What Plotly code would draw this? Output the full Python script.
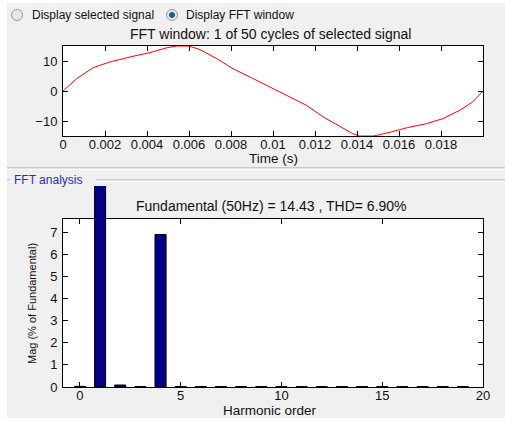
import plotly.graph_objects as go

W, H = 505, 421

# ---------------- data ----------------
time_s = [0.0, 0.00065, 0.00144, 0.00224, 0.00335, 0.00414, 0.00494, 0.0054, 0.0060,
          0.00652, 0.00732, 0.0081, 0.00906, 0.0100, 0.0108, 0.0116, 0.0124, 0.0132,
          0.0138, 0.0141, 0.0148, 0.0156, 0.0164, 0.0173, 0.0181, 0.0189, 0.0195, 0.0200]
signal = [0.0, 4.1, 7.8, 9.7, 11.6, 12.8, 14.4, 15.0, 15.0,
          13.8, 10.8, 7.4, 4.1, 0.8, -2.0, -4.8, -8.7, -12.0,
          -14.2, -15.0, -15.0, -13.7, -12.2, -10.9, -9.2, -6.4, -3.7, 0.0]

harmonic_order = list(range(20))
magnitude_pct = [0.03, 100.0, 0.09, 0.02, 6.90, 0.02, 0.02, 0.02, 0.02, 0.02,
                 0.02, 0.02, 0.02, 0.02, 0.02, 0.02, 0.02, 0.02, 0.02, 0.02]

time_ticks = [0, 0.002, 0.004, 0.006, 0.008, 0.01, 0.012, 0.014, 0.016, 0.018]
time_tick_labels = ["0", "0.002", "0.004", "0.006", "0.008", "0.01", "0.012", "0.014", "0.016", "0.018"]
signal_ticks = [-10, 0, 10]
harm_ticks = [0, 5, 10, 15, 20]
mag_ticks = [0, 1, 2, 3, 4, 5, 6, 7]

title_top = "FFT window: 1 of 50 cycles of selected signal"
title_bottom = "Fundamental (50Hz) = 14.43 , THD= 6.90%"

# ---------------- helpers ----------------
def px(x):
    return x / W

def py(y):
    return 1 - y / H

FONT = "Liberation Sans, Arial, sans-serif"
TXT = "#111111"
GRAY = "#f0f0f0"

L, R = 63, 483
T1, B1 = 46, 136
T2, B2 = 219, 387
T3 = 186
mag_max = 7.6
mag_ext = mag_max * (B2 - T3) / (B2 - T2)

fig = go.Figure()

fig.add_trace(go.Scatter(x=time_s, y=signal, mode="lines",
                         line=dict(color="#ff0000", width=1),
                         xaxis="x", yaxis="y", showlegend=False, hoverinfo="skip"))

fig.add_trace(go.Scatter(x=[None], y=[None], mode="lines", xaxis="x2", yaxis="y2",
                         showlegend=False, hoverinfo="skip"))

fig.add_trace(go.Bar(x=harmonic_order, y=magnitude_pct, width=0.55,
                     marker=dict(color="#000088", line=dict(color="#000000", width=1)),
                     xaxis="x3", yaxis="y3", showlegend=False, hoverinfo="skip"))

axis_common = dict(showline=True, linecolor="#000000", linewidth=1, mirror="allticks",
                   ticks="inside", ticklen=5, tickcolor="#000000", showgrid=False,
                   zeroline=False, automargin=False,
                   tickfont=dict(family=FONT, size=13, color=TXT))

fig.update_layout(
    width=W, height=H,
    margin=dict(l=0, r=0, t=0, b=0, pad=0, autoexpand=False),
    paper_bgcolor="#ffffff",
    plot_bgcolor="rgba(0,0,0,0)",
    showlegend=False,
    xaxis=dict(domain=[px(L), px(R)], range=[0, 0.02], anchor="y", ticklabelstandoff=-4,
               tickvals=time_ticks, ticktext=time_tick_labels, **axis_common),
    yaxis=dict(domain=[py(B1), py(T1)], range=[-15, 15], anchor="x", ticklabelstandoff=2,
               tickvals=signal_ticks, **axis_common),
    xaxis2=dict(domain=[px(L), px(R)], range=[-0.84, 20], anchor="y2", ticklabelstandoff=-4,
                tickvals=harm_ticks, **axis_common),
    yaxis2=dict(domain=[py(B2), py(T2)], range=[0, mag_max], anchor="x2", ticklabelstandoff=2,
                tickvals=mag_ticks, **axis_common),
    xaxis3=dict(domain=[px(L), px(R)], range=[-0.84, 20], anchor="y3", visible=False),
    yaxis3=dict(domain=[py(B2), py(T3)], range=[0, mag_ext], anchor="x3", visible=False),
)

shapes = []
shapes.append(dict(type="rect", xref="paper", yref="paper", x0=px(7), x1=px(505), y0=py(418), y1=py(3),
                   fillcolor=GRAY, line=dict(width=0), layer="below"))
shapes.append(dict(type="rect", xref="paper", yref="paper", x0=px(L), x1=px(R), y0=py(B1), y1=py(T1),
                   fillcolor="#ffffff", line=dict(width=0), layer="below"))
shapes.append(dict(type="rect", xref="paper", yref="paper", x0=px(L), x1=px(R), y0=py(B2), y1=py(T2),
                   fillcolor="#ffffff", line=dict(width=0), layer="below"))
shapes.append(dict(type="line", xref="paper", yref="paper", x0=px(7), x1=px(505), y0=py(168), y1=py(168),
                   line=dict(color="#a0a0a0", width=1), layer="below"))
shapes.append(dict(type="line", xref="paper", yref="paper", x0=px(7), x1=px(505), y0=py(169), y1=py(169),
                   line=dict(color="#ffffff", width=1), layer="below"))
for (a, b) in [(7, 10), (96, 505)]:
    shapes.append(dict(type="line", xref="paper", yref="paper", x0=px(a), x1=px(b), y0=py(180), y1=py(180),
                       line=dict(color="#a0a0a0", width=1), layer="below"))
    shapes.append(dict(type="line", xref="paper", yref="paper", x0=px(a), x1=px(b), y0=py(181), y1=py(181),
                       line=dict(color="#ffffff", width=1), layer="below"))
for cx in (17, 172):
    shapes.append(dict(type="circle", xref="paper", yref="paper", x0=px(cx - 5.5), x1=px(cx + 5.5),
                       y0=py(15 + 5.5), y1=py(15 - 5.5), fillcolor="#e8e8e8",
                       line=dict(color="#9a9a9a", width=1), layer="below"))
shapes.append(dict(type="circle", xref="paper", yref="paper", x0=px(172 - 2.5), x1=px(172 + 2.5),
                   y0=py(15 + 2.5), y1=py(15 - 2.5), fillcolor="#1f5fa8",
                   line=dict(color="#154a86", width=1), layer="below"))
fig.update_layout(shapes=shapes)

ann = []
def text(x, y, s, size, color=TXT, xanchor="center", textangle=0):
    ann.append(dict(xref="paper", yref="paper", x=px(x), y=py(y), text=s, showarrow=False,
                    xanchor=xanchor, yanchor="middle", textangle=textangle,
                    font=dict(family=FONT, size=size, color=color)))

text(30, 15, "Display selected signal", 12, xanchor="left")
text(184, 15, "Display FFT window", 12, xanchor="left")
text(270, 34, title_top, 14)
text(273, 159, "Time (s)", 13.5)
text(12, 180, "FFT analysis", 12, color="#2b2bc0", xanchor="left")
text(271, 206, title_bottom, 14)
text(270, 410, "Harmonic order", 13.5)
text(32, 304, "Mag (% of Fundamental)", 11, textangle=-90)
fig.update_layout(annotations=ann)

post = (
    "var de=document.documentElement;de.style.margin='0';de.style.padding='0';de.style.overflow='hidden';"
    "document.body.style.margin='0';document.body.style.padding='0';document.body.style.overflow='hidden';"
    "var gd=document.getElementById('{plot_id}');gd.style.position='fixed';gd.style.left='0';gd.style.top='0';"
)

fig.write_html("out.html",
               config={"displayModeBar": False, "responsive": False, "staticPlot": True},
               post_script=post)
